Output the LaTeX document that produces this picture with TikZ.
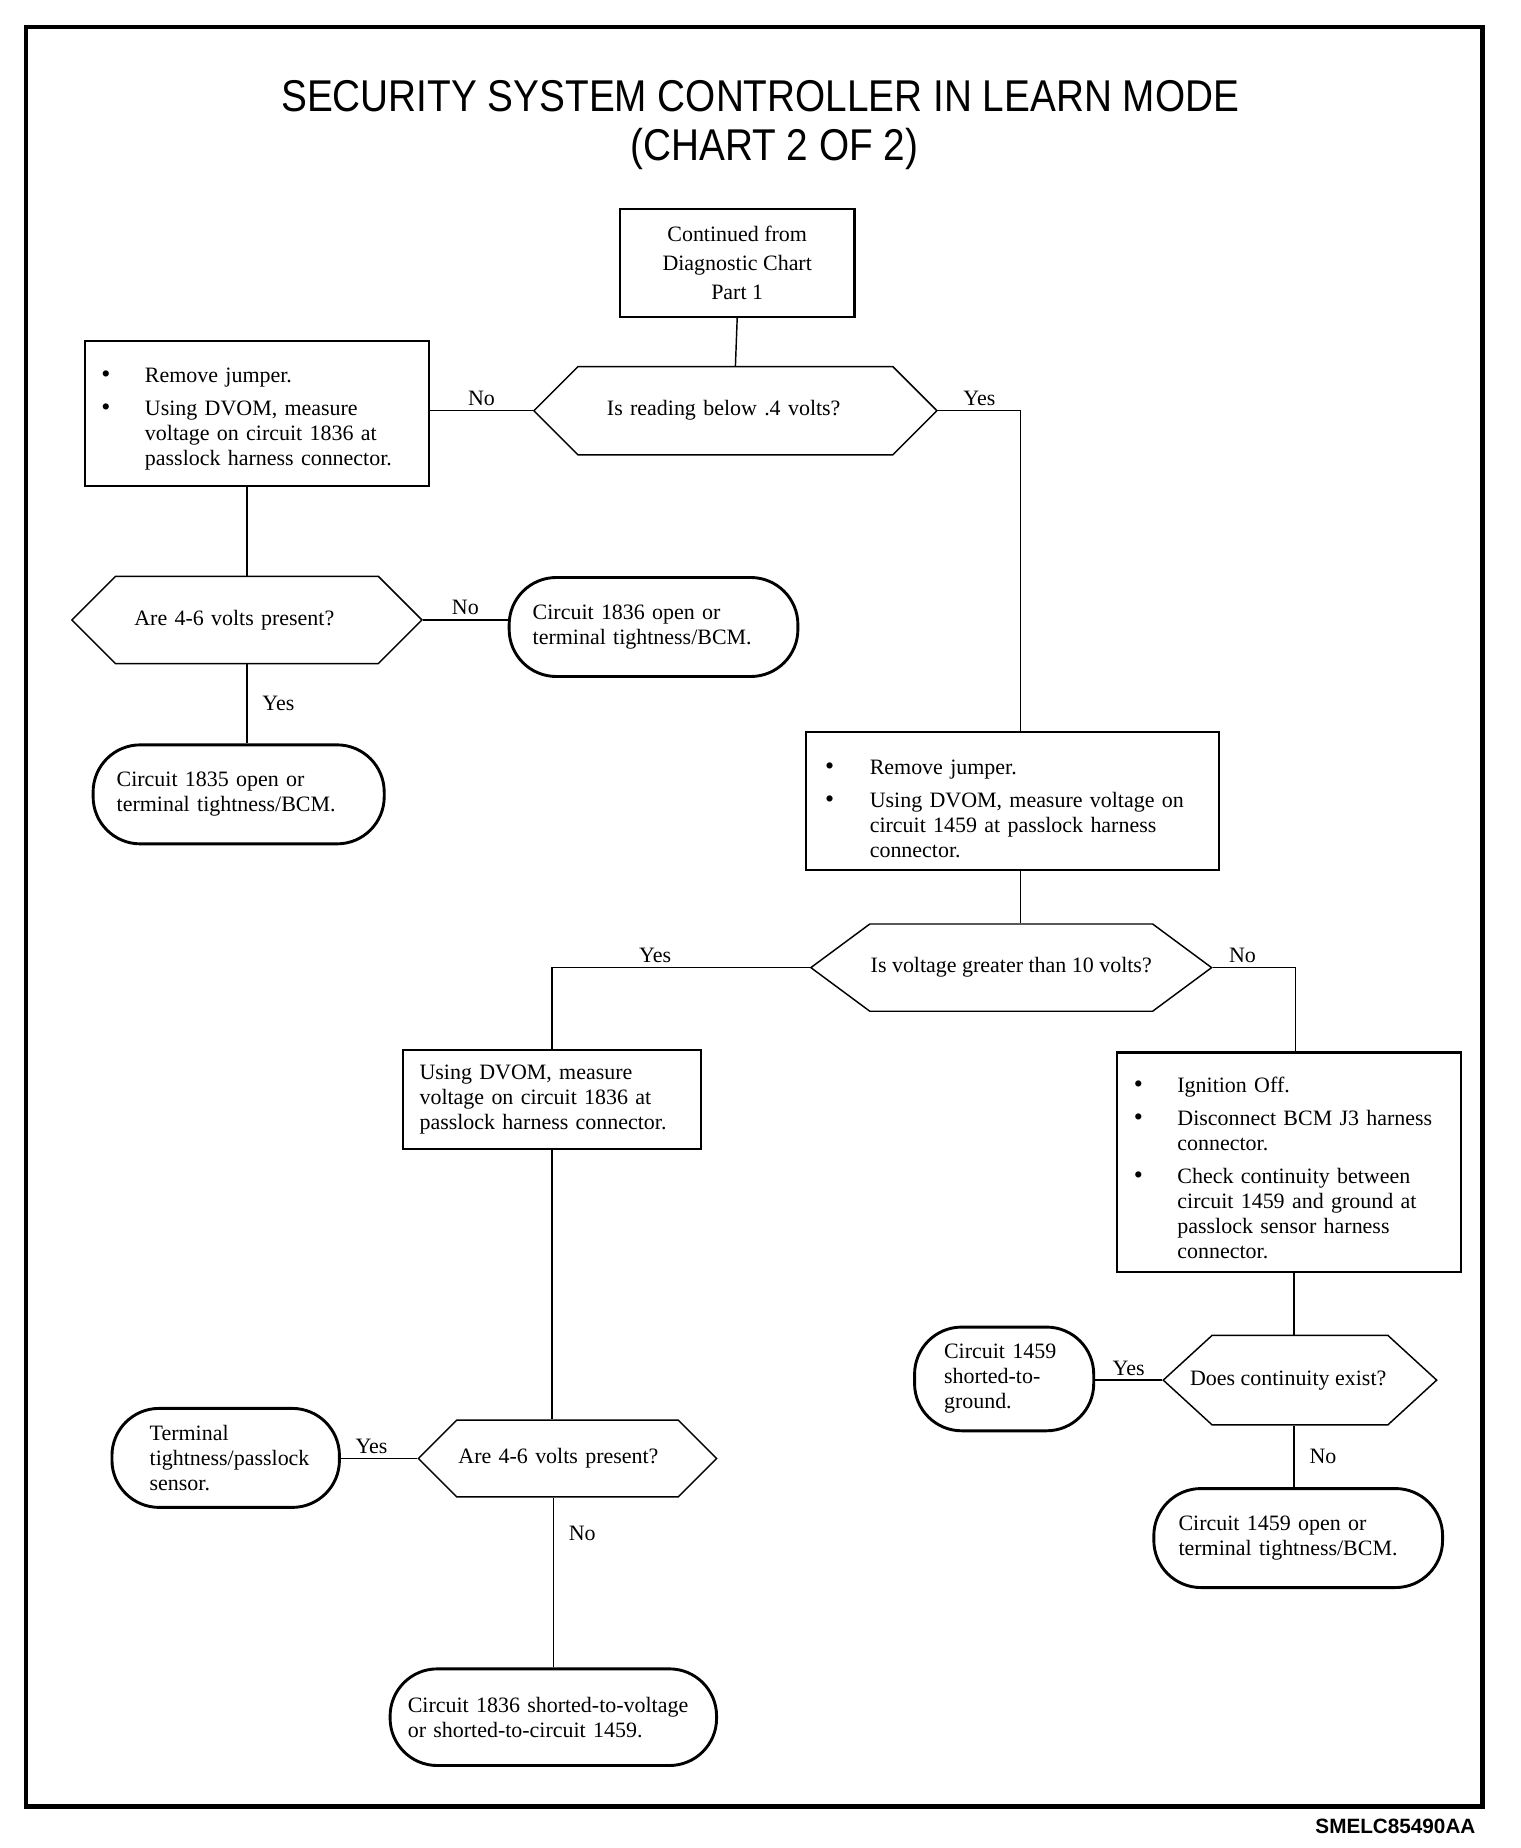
\documentclass[tikz,border=0pt]{standalone}
\usepackage{fontspec}
\setmainfont{Liberation Serif}
\newfontfamily\titlefont[FakeStretch=0.87]{Liberation Sans}
\newfontfamily\codefont{Liberation Sans}
\usetikzlibrary{shapes.symbols}
\newcommand{\bul}{{\fontsize{12.5}{12}\selectfont\textbullet}}
\newcommand{\lift}[1]{\rule{0pt}{#1}}

\begin{document}
\begin{tikzpicture}[x=0.2mm, y=-0.2mm,
    every node/.style={font=\fontsize{10.6}{12}\selectfont},
    box/.style={draw, line width=1pt, rectangle, align=left, inner sep=0pt},
    ask/.style={draw, line width=0.7pt, shape=signal, signal to=east and west,
        signal pointer angle=90, align=left, inner sep=0pt},
    stop/.style={draw, line width=1.4pt, rectangle, rounded corners=8mm, align=left, inner sep=0pt},
    link/.style={line width=0.7pt},
    ans/.style={inner sep=2pt}
]
    \useasboundingbox (0,0) rectangle (1290,1568);
    \draw[line width=2.2pt] (22,23) rectangle (1258,1533);

    % Titles
    \node[font=\titlefont\fontsize{21.5}{26}\selectfont] (title) at (645,82) {SECURITY SYSTEM CONTROLLER IN LEARN MODE};
    \node[font=\titlefont\fontsize{21.5}{26}\selectfont] (chart) at (657,126) {(CHART 2 OF 2)};
    \node[font=\codefont\bfseries\fontsize{10}{12}\selectfont] (code) at (1184,1550) {SMELC85490AA};

    % Nodes
    \node[box, align=center, minimum width=39.8mm, minimum height=18.4mm,
        font=\fontsize{10.6}{14.2}\selectfont] (start) at (625.5,223) {Continued from\\Diagnostic Chart\\Part 1};
    \node[ask, minimum width=68.4mm, minimum height=15mm, text width=43.6mm] (reading) at (624,348.5) {Is reading below .4 volts?};
    \node[box, minimum width=58.4mm, minimum height=24.6mm, text width=52.8mm] (jumper1) at (218,350.5) {%
        \begin{tabular}{@{}p{7.4mm}@{}l@{}}
        \lift{5mm}\bul & Remove jumper.\\[1.4mm]
        \bul & Using DVOM, measure\\
             & voltage on circuit 1836 at\\
             & passlock harness connector.
        \end{tabular}};
    \node[ask, minimum width=59.4mm, minimum height=14.8mm, text width=38.2mm] (present1) at (209.5,526) {Are 4-6 volts present?};
    \node[stop, minimum width=49mm, minimum height=16.8mm, text width=41mm] (open1836) at (554.5,532) {Circuit 1836 open or\\terminal tightness/BCM.};
    \node[stop, minimum width=49.4mm, minimum height=16.8mm, text width=41.4mm] (open1835) at (202.5,674) {Circuit 1835 open or\\terminal tightness/BCM.};
    \node[box, minimum width=70mm, minimum height=23.4mm, text width=63.6mm] (jumper2) at (859,679.5) {%
        \begin{tabular}{@{}p{7.6mm}@{}l@{}}
        \lift{6.5mm}\bul & Remove jumper.\\[1.4mm]
        \bul & Using DVOM, measure voltage on\\
             & circuit 1459 at passlock harness\\
             & connector.
        \end{tabular}};
    \node[ask, signal pointer angle=73, minimum width=68mm, minimum height=14.8mm,
        align=center, inner xsep=-1mm] (greater) at (858,821) {Is voltage greater than 10 volts?};
    \node[box, minimum width=50.6mm, minimum height=16.8mm, text width=45mm] (measure) at (468.5,933) {Using DVOM, measure\\voltage on circuit 1836 at\\passlock harness connector.};
    \node[ask, minimum width=50.6mm, minimum height=13mm, text width=37mm] (present2) at (481.5,1237.5) {Are 4-6 volts present?};
    \node[stop, minimum width=38.6mm, minimum height=16.8mm, text width=25.8mm] (tightness) at (191.5,1237) {Terminal\\tightness/passlock\\sensor.};
    \node[stop, minimum width=55.4mm, minimum height=16.4mm, text width=49.4mm] (shorted1836) at (469.5,1457) {Circuit 1836 shorted-to-voltage\\or shorted-to-circuit 1459.};
    \node[box, minimum width=58.4mm, minimum height=37.2mm, text width=52.8mm] (ignition) at (1094,986) {%
        \begin{tabular}{@{}p{7.4mm}@{}l@{}}
        \lift{5.8mm}\bul & Ignition Off.\\[1.4mm]
        \bul & Disconnect BCM J3 harness\\
             & connector.\\[1.4mm]
        \bul & Check continuity between\\
             & circuit 1459 and ground at\\
             & passlock sensor harness\\
             & connector.
        \end{tabular}};
    \node[ask, signal pointer angle=85, minimum width=46.4mm, minimum height=15.2mm,
        align=center, inner xsep=-4.1mm] (continuity) at (1103,1171) {Does continuity exist?\hspace*{4mm}};
    \node[stop, minimum width=30.4mm, minimum height=17.6mm, text width=20.4mm] (ground1459) at (852,1170) {Circuit 1459\\shorted-to-\\ground.};
    \node[stop, minimum width=49mm, minimum height=16.8mm, text width=40.6mm] (open1459) at (1101.5,1305) {Circuit 1459 open or\\terminal tightness/BCM.};

    % Edges
    \draw[link] (start.south) -- (reading.north);
    \draw[link] (reading.west) -- node[ans, above]{No} (reading.west -| jumper1.east);
    \draw[link] (reading.east) -| node[ans, above, pos=0.25]{Yes} ([xshift=1.4mm]jumper2.north);
    \draw[link] (present1.north |- jumper1.south) -- (present1.north);
    \draw[link] (present1.east) -- node[ans, above]{No} (present1.east -| open1836.west);
    \draw[link] (present1.south) -- node[ans, right=1.8mm]{Yes} (present1.south |- open1835.north);
    \draw[link] ([xshift=1.4mm]jumper2.south) -- ([xshift=1.4mm]jumper2.south |- greater.north);
    \draw[link] (greater.west) -| node[ans, above, pos=0.3]{Yes} (measure.north);
    \draw[link] (greater.east) -| node[ans, above, pos=0.18]{No} ([xshift=1mm]ignition.north);
    \draw[link] (measure.south) -- (measure.south |- present2.north);
    \draw[link] (present2.west) -- node[ans, above, pos=0.6]{Yes} (present2.west -| tightness.east);
    \draw[link] (present2.south -| shorted1836.north) -- node[ans, right=1.8mm, pos=0.21]{No} (shorted1836.north);
    \draw[link] ([xshift=0.8mm]ignition.south) -- ([xshift=0.8mm]ignition.south |- continuity.north);
    \draw[link] (continuity.west) -- node[ans, above]{Yes} (continuity.west -| ground1459.east);
    \draw[link] ([xshift=0.8mm]ignition.south |- continuity.south) -- node[ans, right=1.8mm]{No} ([xshift=0.8mm]ignition.south |- open1459.north);
\end{tikzpicture}
\end{document}
